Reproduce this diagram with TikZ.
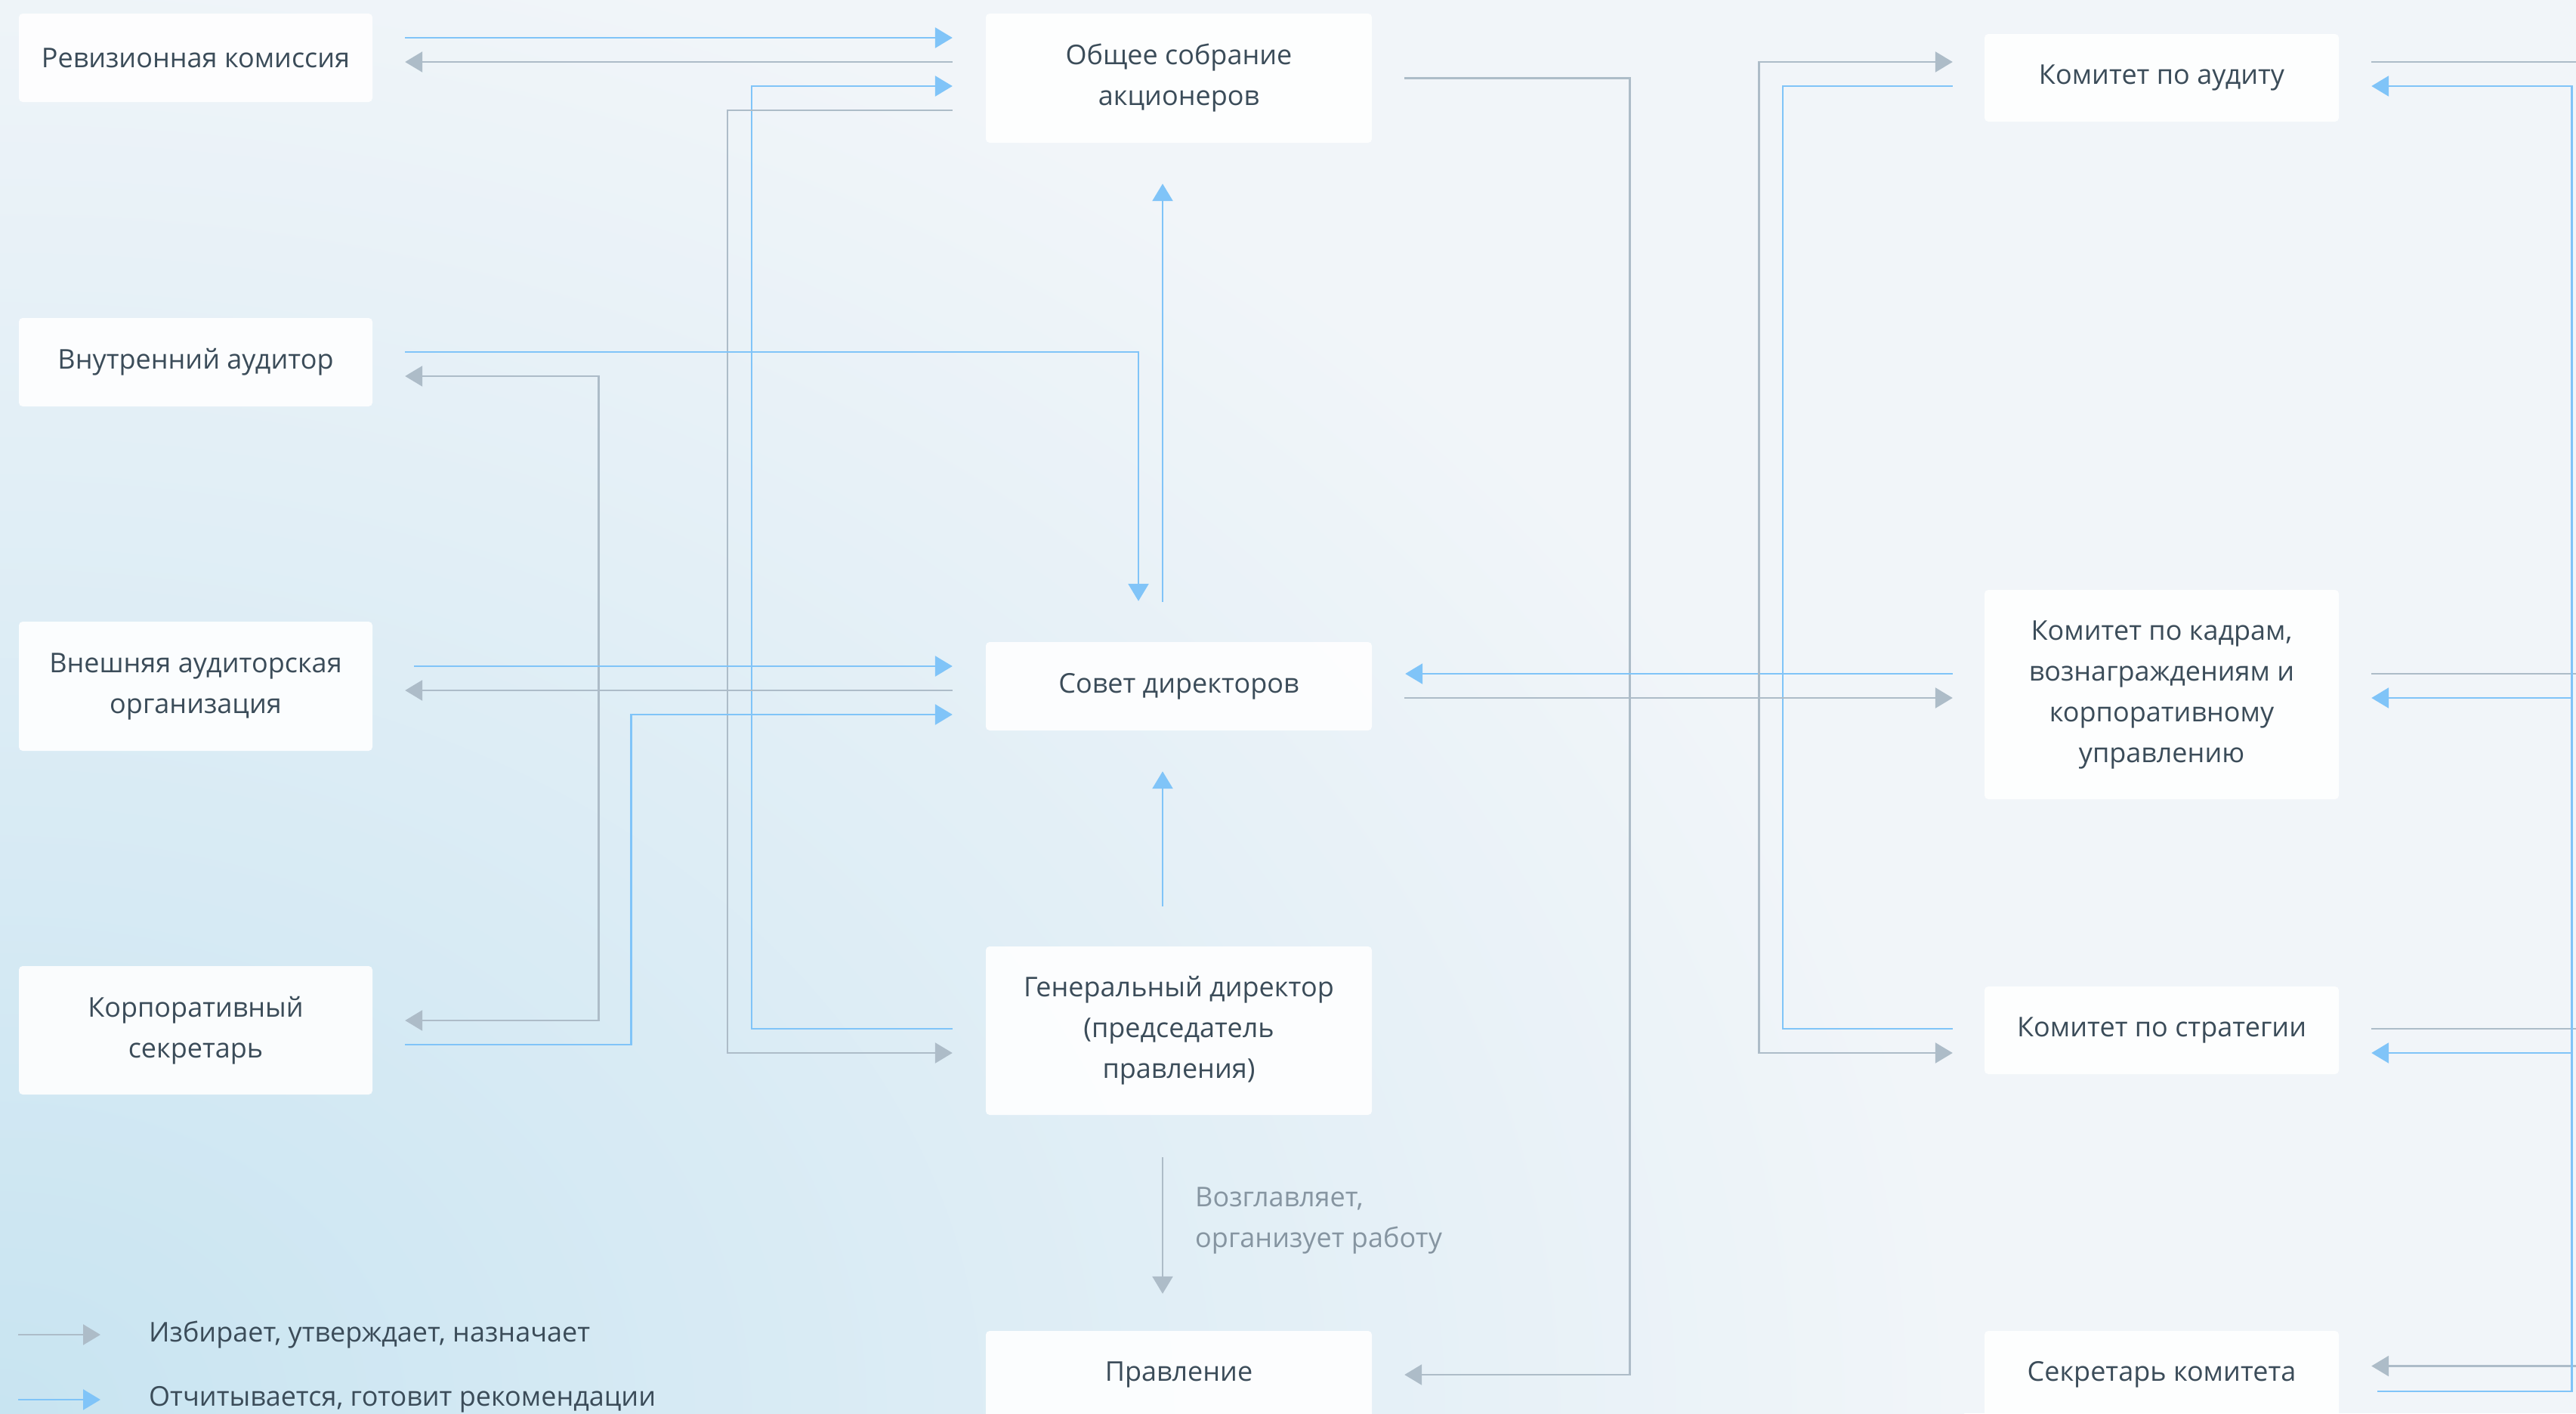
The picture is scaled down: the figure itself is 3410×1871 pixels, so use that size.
\documentclass[tikz,border=0pt]{standalone}
\usepackage{fontspec}
\setmainfont{Open Sans}
\usetikzlibrary{arrows.meta,calc}
\definecolor{bgin}{HTML}{C8E4F1}
\definecolor{bgout}{HTML}{F1F5F9}
\definecolor{txt}{HTML}{3B4C59}
\definecolor{lbl}{HTML}{8695A1}
\definecolor{gline}{HTML}{ADBCC8}
\definecolor{bline}{HTML}{80C4F8}
\begin{document}
\begin{tikzpicture}[x=1pt,y=-1pt,
  box/.style={rectangle, rounded corners=5pt, fill=white, fill opacity=0.9, text opacity=1,
    text=txt, align=center, font=\fontsize{36}{54}\selectfont, inner sep=0pt},
  lbox/.style={box, minimum width=468pt},
  mbox/.style={box, minimum width=511pt},
  rbox/.style={box, minimum width=469pt},
  gln/.style={draw=gline, line width=2.6pt},
  bln/.style={draw=bline, line width=2.6pt},
  tip/.style={-{Triangle[length=23pt,width=27pt]}},
  txtnode/.style={anchor=west, inner sep=0pt, align=left, font=\fontsize{36}{54}\selectfont}
]
\useasboundingbox (0,0) rectangle (3410,1871);
\fill[bgout] (0,0) rectangle (3410,1871);
\begin{scope}
  \clip (0,0) rectangle (3410,1871);
  \shade[inner color=bgin, outer color=bgout] (0,1871) ellipse [x radius=2600, y radius=2000];
\end{scope}

% boxes
\node[lbox, minimum height=117pt] (rev)   at (259,76.5)  {Ревизионная комиссия};
\node[lbox, minimum height=117pt] (vnutr) at (259,479.5) {Внутренний аудитор};
\node[lbox, minimum height=171pt] (vnesh) at (259,908.5) {Внешняя аудиторская\\организация};
\node[lbox, minimum height=170pt] (korp)  at (259,1364)  {Корпоративный\\секретарь};

\node[mbox, minimum height=171pt] (obsh)  at (1560.5,103.5) {Общее собрание\\акционеров};
\node[mbox, minimum height=117pt] (sovet) at (1560.5,908.5) {Совет директоров};
\node[mbox, minimum height=223pt] (gen)   at (1560.5,1364.5) {Генеральный директор\\(председатель\\правления)};
\node[mbox, minimum height=116pt] (prav)  at (1560.5,1820) {Правление};

\node[rbox, minimum height=116pt] (audit) at (2861.5,103) {Комитет по аудиту};
\node[rbox, minimum height=277pt] (kadr)  at (2861.5,919.5) {Комитет по кадрам,\\вознаграждениям и\\корпоративному\\управлению};
\node[rbox, minimum height=116pt] (strat) at (2861.5,1364) {Комитет по стратегии};
\node[rbox, minimum height=116pt] (sekr)  at (2861.5,1820) {Секретарь комитета};

% left connectors
\draw[bln,tip,shorten <=43pt,shorten >=44pt] ($(rev.east)+(0,-26.5)$) -- ($(obsh.west)+(0,-53.5)$);
\draw[gln,tip,shorten <=44pt,shorten >=43pt] ($(obsh.west)+(0,-21.5)$) -- ($(rev.east)+(0,5.5)$);
\draw[bln,tip,shorten <=44pt,shorten >=44pt] ($(gen.west)+(0,-2.5)$) -- ++(-310,0) |- ($(obsh.west)+(0,10.5)$);
\draw[gln,tip,shorten <=44pt,shorten >=44pt] ($(obsh.west)+(0,42.5)$) -- ++(-342,0) |- ($(gen.west)+(0,29.5)$);
\draw[bln,tip,shorten <=43pt,shorten >=54pt] ($(vnutr.east)+(0,-13.5)$) -| ($(sovet.north)+(-53.5,0)$);

\draw[gln,tip,shorten <=44pt,shorten >=43pt] ($(sovet.west)+(0,5.5)$) -- ($(vnesh.east)+(0,5.5)$);
\coordinate (gj) at ($(vnesh.east)+(299,5.5)$);
\draw[gln,tip,shorten >=43pt] (gj) |- ($(vnutr.east)+(0,18.5)$);
\draw[gln,tip,shorten >=43pt] (gj) |- ($(korp.east)+(0,-13)$);

\draw[bln,tip,shorten <=55pt,shorten >=44pt] ($(vnesh.east)+(0,-26.5)$) -- ($(sovet.west)+(0,-26.5)$);
\draw[bln,tip,shorten <=43pt,shorten >=44pt] ($(korp.east)+(0,19)$) -- ++(342,0) |- ($(sovet.west)+(0,37.5)$);

% middle
\draw[bln,tip,shorten <=53pt,shorten >=54pt] ($(sovet.north)+(-21.5,0)$) -- ($(obsh.south)+(-21.5,0)$);
\draw[bln,tip,shorten <=53pt,shorten >=54pt] ($(gen.north)+(-21.5,0)$) -- ($(sovet.south)+(-21.5,0)$);
\draw[gln,tip,shorten <=56pt,shorten >=49pt] ($(gen.south)+(-21.5,0)$) -- ($(prav.north)+(-21.5,0)$);
\node[txtnode, text=lbl] (lbl) at (1582,1616) {Возглавляет,\\организует работу};
\draw[gln,tip,shorten <=43pt,shorten >=43pt] (obsh.east) -- ++(341,0) |- (prav.east);

% right-middle
\draw[bln,tip,shorten <=42pt,shorten >=44pt] ($(kadr.west)+(0,-27.5)$) -- ($(sovet.east)+(0,-16.5)$);
\coordinate (bj) at ($(kadr.west)+(-267,-27.5)$);
\draw[bln,shorten <=42pt] ($(audit.west)+(0,11)$) -| (bj);
\draw[bln,shorten <=42pt] ($(strat.west)+(0,-2)$) -| (bj);
\draw[gln,tip,shorten <=43pt,shorten >=42pt] ($(sovet.east)+(0,15.5)$) -- ($(kadr.west)+(0,4.5)$);
\coordinate (gj2) at ($(sovet.east)+(512,15.5)$);
\draw[gln,tip,shorten >=42pt] (gj2) |- ($(audit.west)+(0,-21)$);
\draw[gln,tip,shorten >=42pt] (gj2) |- ($(strat.west)+(0,30)$);

% right edge
\draw[gln,tip,shorten <=43pt,shorten >=43pt] ($(audit.east)+(0,-21)$) -- ++(330,0) |- ($(sekr.east)+(0,-11.5)$);
\draw[gln,shorten <=43pt] ($(kadr.east)+(0,-27.5)$) -- ++(330,0);
\draw[gln,shorten <=43pt] ($(strat.east)+(0,-2)$) -- ++(330,0);
\draw[bln,tip,shorten <=51pt,shorten >=43pt] ($(sekr.east)+(0,22)$) -- ++(308,0) |- ($(audit.east)+(0,11)$);
\coordinate (rb) at ($(sekr.east)+(308,22)$);
\draw[bln,tip,shorten >=43pt] (rb) |- ($(kadr.east)+(0,4.5)$);
\draw[bln,tip,shorten >=43pt] (rb) |- ($(strat.east)+(0,30)$);

% legend
\coordinate (l1a) at (24,1767); \coordinate (l1b) at (133,1767);
\coordinate (l2a) at (24,1853); \coordinate (l2b) at (133,1853);
\draw[gln,tip] (l1a) -- (l1b);
\draw[bln,tip] (l2a) -- (l2b);
\node[txtnode, text=txt] (lg1) at (197,1767) {Избирает, утверждает, назначает};
\node[txtnode, text=txt] (lg2) at (197,1853) {Отчитывается, готовит рекомендации};
\end{tikzpicture}
\end{document}
